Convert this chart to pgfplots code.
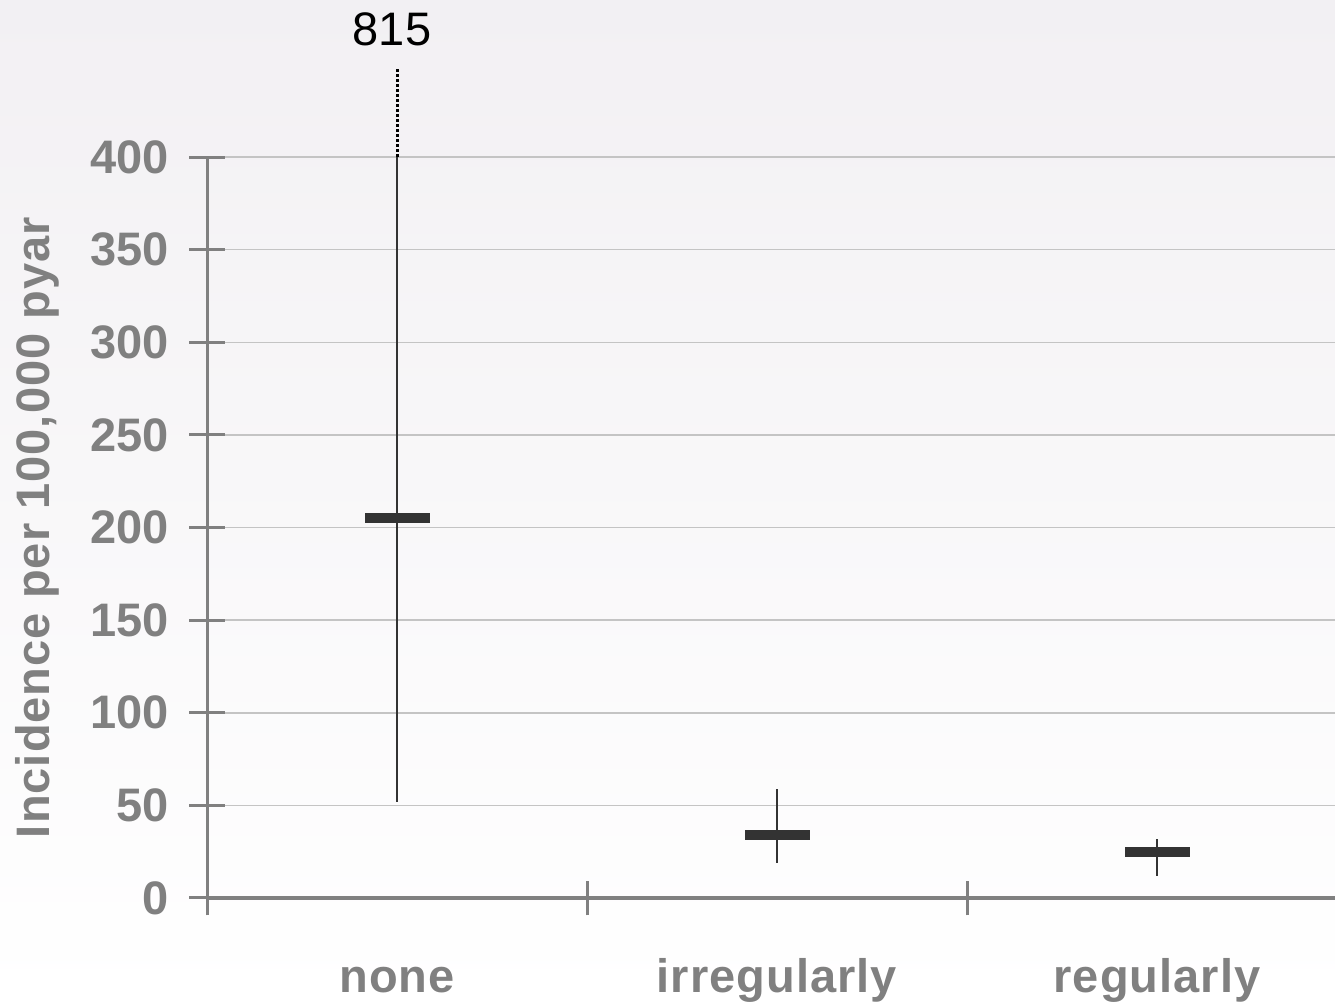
\documentclass[border=0pt]{standalone}
\usepackage{pgfplots}
\pgfplotsset{compat=1.18}
\usepackage{pgfplotstable}
\usepackage{fontspec}
\setmainfont{Liberation Sans}

\definecolor{axgray}{HTML}{808080}
\definecolor{gridgray}{HTML}{C4C4C4}
\definecolor{barcol}{HTML}{333333}
\definecolor{bgtop}{HTML}{F2F0F3}

% incidence per 100,000 pyar: estimate with lower and upper bound
\pgfplotstableread{
x   est lo  hi
0.5 205 52  815
1.5 34  19  59
2.5 25  12  32
}\incidence

\newcommand{\bigbold}{\bfseries\fontsize{23.5}{28}\selectfont}
\newcommand{\bigboldsp}{\bfseries\fontsize{23.5}{28}\selectfont\addfontfeature{LetterSpace=2.2}}

\begin{document}
\begin{tikzpicture}
\shade[top color=bgtop, bottom color=white] (0,0) rectangle (667.5pt,501pt);
\useasboundingbox (0,0) rectangle (667.5pt,501pt);
\begin{axis}[
  at={(103.5pt,52pt)}, anchor=south west,
  scale only axis, width=564pt, height=370.5pt,
  xmin=0, xmax=2.9684, ymin=0, ymax=400,
  clip=false,
  axis x line=bottom, axis y line=left,
  axis line style={-, axgray},
  x axis line style={line width=2pt},
  y axis line style={line width=1.5pt},
  tick align=center, major tick length=17.5pt,
  tick style={axgray, line width=1.5pt},
  xtick={0,1,2}, xticklabels={},
  extra x ticks={0.5,1.5,2.5},
  extra x tick labels={none,irregularly,regularly},
  extra x tick style={major tick length=0pt,
    xticklabel style={anchor=base, yshift=-47pt, font=\bigboldsp}},
  ytick={0,50,...,400},
  yticklabel style={xshift=-7pt},
  ymajorgrids, grid style={gridgray, line width=0.75pt},
  ticklabel style={font=\bigbold, text=axgray},
  /pgf/number format/assume math mode=true,
  ylabel={Incidence per 100,000 pyar},
  every axis y label/.style={at={(axis description cs:0,0.5)}, xshift=-85pt,
    rotate=90, anchor=center, font=\bigboldsp, text=axgray},
]
% whiskers (the first one is cut at the top of the axis)
\addplot[only marks, mark=none,
  error bars/.cd, y dir=both, y explicit, error mark=none,
  error bar style={draw=barcol, solid, line width=1pt}]
  table[x=x, y=est,
    y error plus expr={min(\thisrow{hi},400)-\thisrow{est}},
    y error minus expr={\thisrow{est}-\thisrow{lo}}] {\incidence};
% continuation beyond the axis range
\addplot[black, line width=1.5pt, dash pattern=on 1.5pt off 1pt]
  coordinates {(0.5,400) (0.5,448)};
\node[anchor=base, font=\fontsize{23.5}{28}\selectfont, text=black, xshift=-2.5pt, yshift=11.5pt]
  at (axis cs:0.5,448) {815};
% point estimates
\addplot[only marks, mark=-, mark size=16.25pt,
  mark options={draw=barcol, line width=5pt, line cap=butt}]
  table[x=x, y=est] {\incidence};
\end{axis}
\end{tikzpicture}
\end{document}
